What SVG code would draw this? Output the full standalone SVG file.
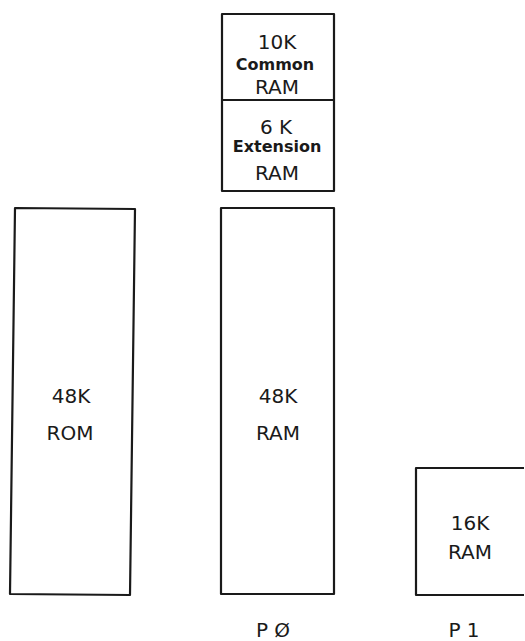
<svg xmlns="http://www.w3.org/2000/svg" width="525" height="641" viewBox="0 0 525 641">
<style>
.box{fill:none;stroke:#1a1a1a;stroke-width:2.2;stroke-linejoin:round}
text{font-family:"DejaVu Sans","Liberation Sans",sans-serif;fill:#1a1a1a;text-anchor:middle}
.l{font-size:20px}
.s{font-size:16px;font-weight:bold}
</style>
<rect width="525" height="641" fill="#fff"/>
<g id="rom">
<polygon class="box" points="15,208 135,209 130,595 10,594"/>
<text class="l" x="71" y="403">48K</text>
<text class="l" x="70" y="440">ROM</text>
</g>
<g id="common-ram">
<rect class="box" x="222" y="14" width="112" height="86"/>
<text class="l" x="277" y="49">10K</text>
<text class="s" x="275" y="70">Common</text>
<text class="l" x="277" y="94">RAM</text>
</g>
<g id="extension-ram">
<rect class="box" x="222" y="100" width="112" height="91"/>
<text class="l" x="276" y="134">6 K</text>
<text class="s" x="277" y="152">Extension</text>
<text class="l" x="277" y="180">RAM</text>
</g>
<g id="p0-ram">
<rect class="box" x="221" y="208" width="113" height="386"/>
<text class="l" x="278" y="403">48K</text>
<text class="l" x="278" y="440">RAM</text>
</g>
<g id="p1-ram">
<polyline class="box" points="524,468 416,468 416,595 524,595"/>
<text class="l" x="470" y="530">16K</text>
<text class="l" x="470" y="559">RAM</text>
</g>
<g id="labels">
<text class="l" x="273" y="637">P Ø</text>
<text class="l" x="464" y="637">P 1</text>
</g>
<g id="connectors"/>
</svg>
